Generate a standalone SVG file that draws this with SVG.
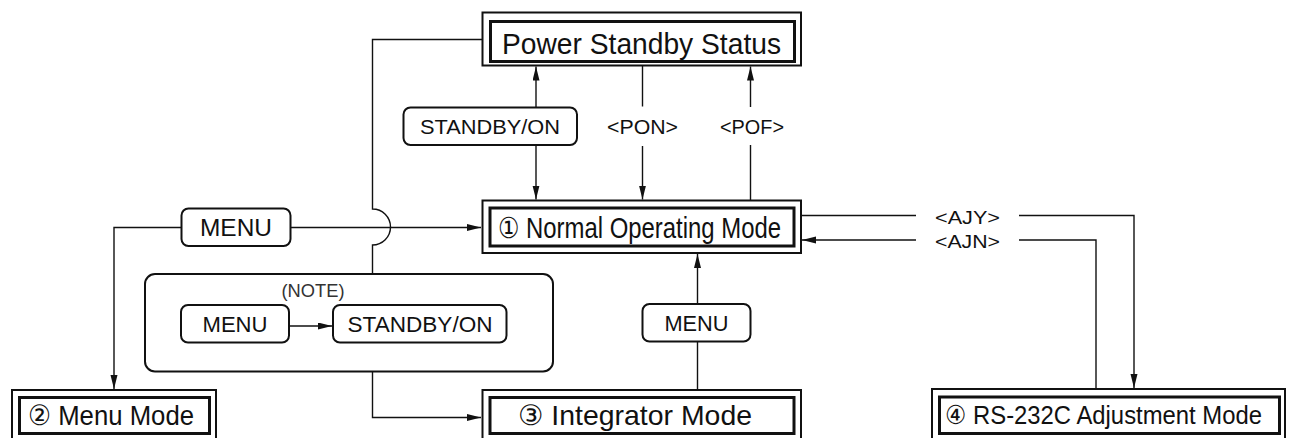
<svg xmlns="http://www.w3.org/2000/svg" width="1295" height="438" viewBox="0 0 1295 438">
<style>
text{font-family:"Liberation Sans",Arial,"DejaVu Sans",sans-serif;fill:#111}
.outer{fill:#fff;stroke:#111;stroke-width:2}
.inner{fill:none;stroke:#111;stroke-width:3}
.rb{fill:#fff;stroke:#111;stroke-width:2}
.big{font-size:28px}
.lbl{font-size:21px;text-anchor:middle}
.con{fill:none;stroke:#111;stroke-width:1.4}
</style>
<defs>
<marker id="ah" markerUnits="userSpaceOnUse" markerWidth="15" markerHeight="8" refX="14" refY="3.5" orient="auto">
<path d="M0,0 L14,3.5 L0,7 z" fill="#111"/>
</marker>
</defs>
<rect width="1295" height="438" fill="#fff"/>
<g id="power-standby">
<rect class="outer" x="482.5" y="12.5" width="318.5" height="53"/>
<rect class="inner" x="490.5" y="21.5" width="304" height="40"/>
<text class="big" x="641.5" y="54" text-anchor="middle" style="font-size:30px" textLength="279" lengthAdjust="spacingAndGlyphs">Power Standby Status</text>
</g>
<g id="normal-mode">
<rect class="outer" x="482.5" y="200.5" width="318.5" height="52.5"/>
<rect class="inner" x="490" y="208" width="304" height="38"/>
<text class="big" x="639.5" y="237.5" text-anchor="middle" style="font-size:29px" textLength="283" lengthAdjust="spacingAndGlyphs">① Normal Operating Mode</text>
</g>
<g id="menu-mode">
<rect class="outer" x="12" y="390" width="204" height="60"/>
<rect class="inner" x="19.5" y="397.5" width="190" height="36"/>
<text class="big" x="111" y="425" text-anchor="middle" textLength="166" lengthAdjust="spacingAndGlyphs">② Menu Mode</text>
</g>
<g id="integrator-mode">
<rect class="outer" x="482.5" y="390" width="318.5" height="60"/>
<rect class="inner" x="490" y="397.5" width="304" height="36"/>
<text class="big" x="635" y="425" text-anchor="middle" textLength="234" lengthAdjust="spacingAndGlyphs">③ Integrator Mode</text>
</g>
<g id="rs232c-mode">
<rect class="outer" x="932" y="389" width="353" height="60"/>
<rect class="inner" x="939.5" y="397" width="340" height="36.5"/>
<text class="big" x="1103.5" y="424" text-anchor="middle" style="font-size:26px" textLength="317" lengthAdjust="spacingAndGlyphs">④ RS-232C Adjustment Mode</text>
</g>
<g id="standby-on-key">
<rect class="rb" x="403.5" y="107.5" width="173.5" height="37.5" rx="7"/>
<text class="lbl" x="490" y="134" textLength="140" lengthAdjust="spacingAndGlyphs">STANDBY/ON</text>
</g>
<g id="pon-label">
<text class="lbl" x="642.5" y="134" textLength="71" lengthAdjust="spacingAndGlyphs">&lt;PON&gt;</text>
</g>
<g id="pof-label">
<text class="lbl" x="752" y="134" textLength="64" lengthAdjust="spacingAndGlyphs">&lt;POF&gt;</text>
</g>
<g id="menu-key-top">
<rect class="rb" x="181.5" y="208.5" width="109" height="37.5" rx="7"/>
<text class="lbl" x="236" y="236" style="font-size:24px" textLength="72" lengthAdjust="spacingAndGlyphs">MENU</text>
</g>
<g id="note">
<rect class="rb" x="145" y="274" width="408" height="97.5" rx="10"/>
<text x="313" y="296.5" text-anchor="middle" style="font-size:18px;fill:#333" textLength="63" lengthAdjust="spacingAndGlyphs">(NOTE)</text>
</g>
<g id="note-menu-key">
<rect class="rb" x="181" y="305" width="108" height="37.5" rx="7"/>
<text class="lbl" x="235" y="331.5" style="font-size:22px" textLength="65" lengthAdjust="spacingAndGlyphs">MENU</text>
</g>
<g id="note-standby-key">
<rect class="rb" x="333" y="305" width="173.5" height="37.5" rx="7"/>
<text class="lbl" x="420" y="331.5" style="font-size:22px" textLength="145" lengthAdjust="spacingAndGlyphs">STANDBY/ON</text>
</g>
<g id="menu-key-integrator">
<rect class="rb" x="642.5" y="304" width="108" height="37.5" rx="7"/>
<text class="lbl" x="696.5" y="331" style="font-size:22px" textLength="64" lengthAdjust="spacingAndGlyphs">MENU</text>
</g>
<g id="ajy-label">
<text x="967.5" y="224" text-anchor="middle" style="font-size:19px" textLength="65" lengthAdjust="spacingAndGlyphs">&lt;AJY&gt;</text>
</g>
<g id="ajn-label">
<text x="967.5" y="248" text-anchor="middle" style="font-size:19px" textLength="65" lengthAdjust="spacingAndGlyphs">&lt;AJN&gt;</text>
</g>
<g id="connectors" class="con">
<path d="M482,39.5 H372.5 V209 A18,18 0 0 1 372.5,245 V274"/>
<path d="M372.5,372 V417.5 H481" marker-end="url(#ah)"/>
<path d="M181.5,227.5 H114 V389" marker-end="url(#ah)"/>
<path d="M291,227.5 H481" marker-end="url(#ah)"/>
<path d="M536,107 V66.5" marker-end="url(#ah)"/>
<path d="M536,145 V199.5" marker-end="url(#ah)"/>
<path d="M642.5,65.5 V106.5"/>
<path d="M642.5,146 V199.5" marker-end="url(#ah)"/>
<path d="M750.5,200 V145"/>
<path d="M750.5,107 V66.5" marker-end="url(#ah)"/>
<path d="M801,215.5 H916"/>
<path d="M1019,215.5 H1134 V388" marker-end="url(#ah)"/>
<path d="M1096,389 V240 H1019"/>
<path d="M916,240 H802" marker-end="url(#ah)"/>
<path d="M697.5,390 V342"/>
<path d="M697.5,304 V254" marker-end="url(#ah)"/>
<path d="M289,326 H332" marker-end="url(#ah)"/>
</g>
</svg>
